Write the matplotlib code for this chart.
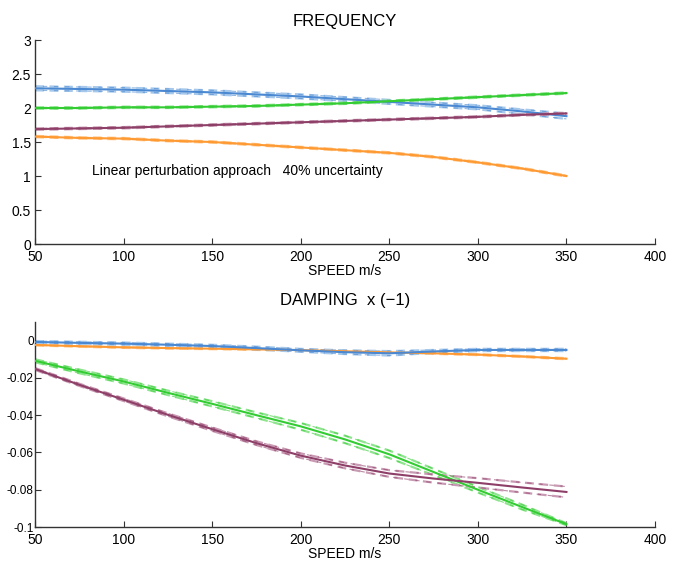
import matplotlib
matplotlib.use("Agg")
import matplotlib.pyplot as plt

plt.rcParams['font.family'] = ['Liberation Sans', 'DejaVu Sans']

speed = [50, 75, 100, 125, 150, 175, 200, 225, 250, 275, 300, 325, 350]

# ---- Frequency: mean and 40% uncertainty bounds ----
freq_blue = [2.29, 2.28, 2.27, 2.25, 2.23, 2.20, 2.17, 2.13, 2.09, 2.05, 2.01, 1.95, 1.88]
freq_blue_hi = [2.32, 2.31, 2.30, 2.28, 2.26, 2.23, 2.20, 2.16, 2.12, 2.08, 2.04, 1.98, 1.92]
freq_blue_lo = [2.26, 2.25, 2.24, 2.22, 2.20, 2.17, 2.14, 2.10, 2.06, 2.02, 1.98, 1.91, 1.84]

freq_green = [2.00, 2.00, 2.01, 2.01, 2.02, 2.03, 2.05, 2.07, 2.10, 2.13, 2.16, 2.19, 2.22]
freq_green_hi = [2.01, 2.01, 2.02, 2.02, 2.03, 2.04, 2.06, 2.08, 2.11, 2.14, 2.17, 2.20, 2.23]
freq_green_lo = [1.99, 1.99, 2.00, 2.00, 2.01, 2.02, 2.04, 2.06, 2.09, 2.12, 2.15, 2.18, 2.21]

freq_purple = [1.69, 1.70, 1.71, 1.73, 1.75, 1.77, 1.79, 1.81, 1.83, 1.85, 1.87, 1.90, 1.92]
freq_purple_hi = [1.70, 1.71, 1.72, 1.74, 1.76, 1.78, 1.80, 1.82, 1.84, 1.86, 1.88, 1.91, 1.93]
freq_purple_lo = [1.68, 1.69, 1.70, 1.72, 1.74, 1.76, 1.78, 1.80, 1.82, 1.84, 1.86, 1.89, 1.91]

freq_orange = [1.58, 1.56, 1.55, 1.52, 1.50, 1.46, 1.42, 1.38, 1.34, 1.28, 1.20, 1.11, 1.00]
freq_orange_hi = [1.59, 1.57, 1.56, 1.53, 1.51, 1.47, 1.43, 1.39, 1.35, 1.29, 1.21, 1.12, 1.01]
freq_orange_lo = [1.57, 1.55, 1.54, 1.51, 1.49, 1.45, 1.41, 1.37, 1.33, 1.27, 1.19, 1.10, 0.99]

# ---- Damping x(-1): mean and bounds ----
damp_blue = [-0.0007, -0.0012, -0.0016, -0.0022, -0.0029, -0.0040, -0.0052, -0.0062, -0.0068, -0.0058, -0.0050, -0.0050, -0.0050]
damp_blue_hi = [-0.0002, -0.0006, -0.0010, -0.0016, -0.0022, -0.0032, -0.0044, -0.0052, -0.0056, -0.0050, -0.0044, -0.0044, -0.0044]
damp_blue_lo = [-0.0012, -0.0018, -0.0022, -0.0028, -0.0036, -0.0048, -0.0060, -0.0072, -0.0080, -0.0066, -0.0056, -0.0056, -0.0056]

damp_orange = [-0.0023, -0.0030, -0.0036, -0.0040, -0.0043, -0.0047, -0.0051, -0.0057, -0.0063, -0.0068, -0.0075, -0.0085, -0.0097]
damp_orange_hi = [-0.0020, -0.0027, -0.0033, -0.0037, -0.0040, -0.0044, -0.0048, -0.0054, -0.0060, -0.0065, -0.0072, -0.0082, -0.0094]
damp_orange_lo = [-0.0026, -0.0033, -0.0039, -0.0043, -0.0046, -0.0050, -0.0054, -0.0060, -0.0066, -0.0071, -0.0078, -0.0088, -0.0100]

damp_green = [-0.0108, -0.0165, -0.0219, -0.0280, -0.0339, -0.0400, -0.0460, -0.0530, -0.0610, -0.0705, -0.0800, -0.0893, -0.0985]
damp_green_hi = [-0.0100, -0.0155, -0.0208, -0.0268, -0.0325, -0.0385, -0.0442, -0.0510, -0.0590, -0.0688, -0.0785, -0.0880, -0.0980]
damp_green_lo = [-0.0116, -0.0175, -0.0230, -0.0292, -0.0353, -0.0415, -0.0478, -0.0550, -0.0630, -0.0722, -0.0815, -0.0906, -0.0990]

damp_purple = [-0.0152, -0.0237, -0.0317, -0.0398, -0.0475, -0.0550, -0.0617, -0.0670, -0.0713, -0.0740, -0.0763, -0.0788, -0.0812]
damp_purple_hi = [-0.0147, -0.0231, -0.0310, -0.0390, -0.0466, -0.0540, -0.0605, -0.0655, -0.0695, -0.0718, -0.0738, -0.0761, -0.0783]
damp_purple_lo = [-0.0157, -0.0243, -0.0324, -0.0406, -0.0484, -0.0560, -0.0629, -0.0685, -0.0731, -0.0762, -0.0788, -0.0815, -0.0841]

xticks = [50, 100, 150, 200, 250, 300, 350, 400]
freq_yticks = [0, 0.5, 1, 1.5, 2, 2.5, 3]
freq_yticklabels = ['0', '0.5', '1', '1.5', '2', '2.5', '3']
damp_yticks = [-0.1, -0.08, -0.06, -0.04, -0.02, 0]
damp_yticklabels = ['-0.1', '-0.08', '-0.06', '-0.04', '-0.02', '0']

colors = {
    'blue': ('#4a88d2', '#a6c8ea'),
    'green': ('#33cc33', '#8fe48f'),
    'purple': ('#8e3f68', '#c99ab3'),
    'orange': ('#ff9a33', '#ffc98f'),
}

fig = plt.figure(figsize=(6.75, 5.66), dpi=100)
ax1 = fig.add_axes([0.0519, 0.5689, 0.9185, 0.3604])
ax2 = fig.add_axes([0.0519, 0.0689, 0.9185, 0.3622])


def draw_series(ax, mean, hi, lo, key):
    dark, light = colors[key]
    for b in (hi, lo):
        ax.plot(speed, b, color=light, lw=1.6, ls=(0, (4, 2.5)), zorder=2)
        ax.plot(speed, b, color=dark, lw=0.8, ls=(3, (4, 6)), alpha=0.6, zorder=2)
    ax.plot(speed, mean, color=dark, lw=1.5, zorder=3)


draw_series(ax1, freq_blue, freq_blue_hi, freq_blue_lo, 'blue')
draw_series(ax1, freq_green, freq_green_hi, freq_green_lo, 'green')
draw_series(ax1, freq_purple, freq_purple_hi, freq_purple_lo, 'purple')
draw_series(ax1, freq_orange, freq_orange_hi, freq_orange_lo, 'orange')

draw_series(ax2, damp_green, damp_green_hi, damp_green_lo, 'green')
draw_series(ax2, damp_purple, damp_purple_hi, damp_purple_lo, 'purple')
draw_series(ax2, damp_orange, damp_orange_hi, damp_orange_lo, 'orange')
draw_series(ax2, damp_blue, damp_blue_hi, damp_blue_lo, 'blue')

for ax in (ax1, ax2):
    ax.set_xlim(50, 400)
    ax.set_xticks(xticks)
    ax.spines['top'].set_visible(False)
    ax.spines['right'].set_visible(False)
    for s in ('left', 'bottom'):
        ax.spines[s].set_color('#333333')
        ax.spines[s].set_linewidth(1.0)
    ax.tick_params(direction='in', length=4, width=0.8, labelsize=10, colors='#333333',
                   labelcolor='black')
    ax.tick_params(axis='x', pad=4)
    ax.tick_params(axis='y', pad=3)
    ax.set_xlabel('SPEED m/s', fontsize=10, labelpad=0)

ax1.set_ylim(0, 3)
ax1.set_yticks(freq_yticks)
ax1.set_yticklabels(freq_yticklabels)
ax1.set_title('FREQUENCY', fontsize=12, pad=10)
ax1.text(82, 1.07, 'Linear perturbation approach   40% uncertainty', fontsize=10,
         va='center', ha='left')

ax2.set_ylim(-0.1, 0.01)
ax2.set_yticks(damp_yticks)
ax2.set_yticklabels(damp_yticklabels)
# the damping labels are longer, so they sit a little tighter to the axis
ax2.tick_params(axis='y', labelsize=8.5, pad=1)
ax2.set_title('DAMPING  x (\u22121)', fontsize=12, pad=12)

fig.savefig('out.png', dpi=100)
